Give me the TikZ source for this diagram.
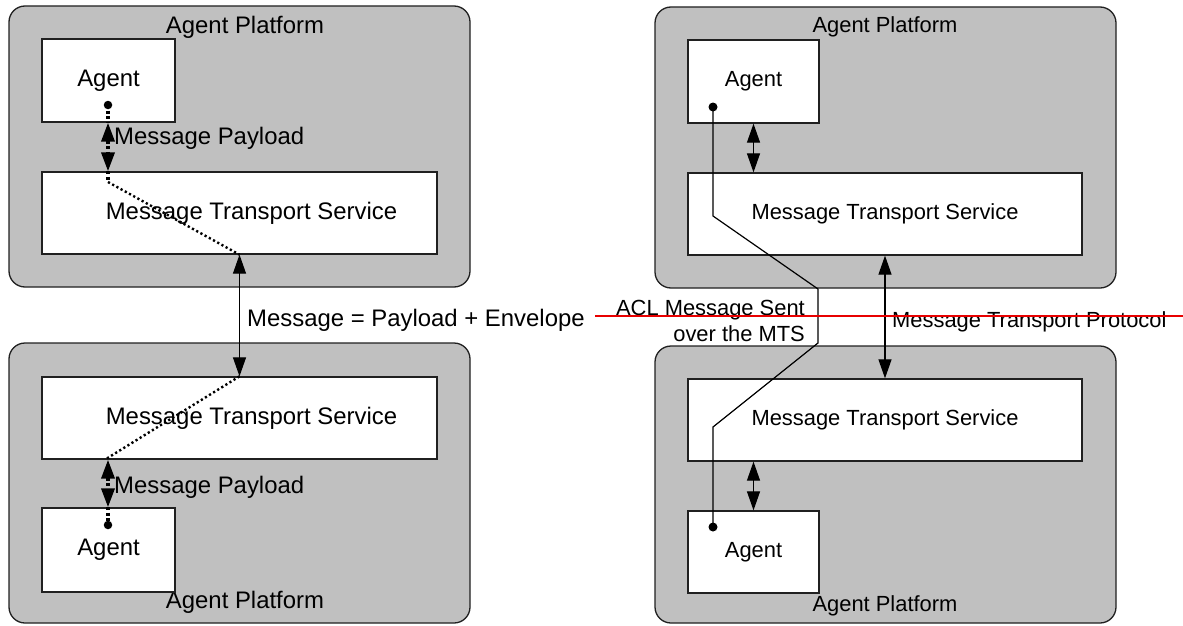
\documentclass[tikz,border=0pt]{standalone}
\usepackage{fontspec}
\setmainfont{Liberation Sans}
\usetikzlibrary{arrows.meta}
\definecolor{platgray}{HTML}{C0C0C0}
\definecolor{edgegray}{HTML}{202020}
\definecolor{redline}{HTML}{E80000}
\begin{document}
\begin{tikzpicture}[x=1pt,y=-1pt,
  platform/.style={draw=edgegray, line width=1.3pt, fill=platgray, rounded corners=16pt, inner sep=0pt},
  whitebox/.style={draw=edgegray, line width=1.3pt, fill=white, inner sep=0pt},
  bigtxt/.style={font=\fontsize{23.9}{28}\selectfont, inner sep=0pt},
  smalltxt/.style={font=\fontsize{21.9}{25.5}\selectfont, inner sep=0pt, align=right},
  headtip/.tip={Triangle[length=19pt,width=13pt]},
  dblarrow/.style={headtip-headtip, line width=1.2pt},
  dotthick/.style={line width=3.5pt, dash pattern=on 3pt off 2.5pt},
  dotthin/.style={line width=2.4pt, dash pattern=on 2.2pt off 2.6pt},
  dotnode/.style={circle, fill=black, inner sep=0pt, minimum size=#1},
  wire/.style={line width=1.2pt, draw=black}
]
\useasboundingbox (0,0) rectangle (1183,626);

% ---------------- left column ----------------
\node[platform, minimum width=461pt, minimum height=281pt] (P1) at (239.5,146.5) {};
\node[platform, minimum width=461pt, minimum height=280pt] (P2) at (239.5,483) {};
\node[bigtxt] (P1lab) at (245,27) {Agent Platform};
\node[bigtxt] (P2lab) at (245,602) {Agent Platform};

\node[whitebox, bigtxt, minimum width=133pt, minimum height=83pt] (A1) at (108.5,80.5) {Agent};
\node[whitebox, minimum width=395pt, minimum height=82pt,
      label={[bigtxt, xshift=12pt]center:Message Transport Service}] (M1) at (239.5,213) {};
\node[whitebox, minimum width=395pt, minimum height=82pt,
      label={[bigtxt, xshift=12pt]center:Message Transport Service}] (M2) at (239.5,418) {};
\node[whitebox, bigtxt, minimum width=133pt, minimum height=84pt] (A2) at (108.5,550) {Agent};

\node[dotnode=8.5pt] (d1) at (108,105) {};
\node[dotnode=8.5pt] (d2) at (108,525) {};
\coordinate (b1) at (108,182);
\coordinate (b2) at (106,459);

\draw[dblarrow, dotthick] (A1.south -| d1) -- (M1.north -| d1);
\draw[dotthick] (d1.center) -- (A1.south -| d1);
\draw[dotthick] (M1.north -| d1) -- (b1);
\draw[dotthin] (b1) -- (M1.south);

\draw[dblarrow] (M1.south) -- (M2.north);

\draw[dotthin] (M2.north) -- (b2);
\draw[dblarrow, dotthick] (M2.south -| d2) -- (A2.north -| d2);
\draw[dotthick] (A2.north -| d2) -- (d2.center);

\node[bigtxt, anchor=west] (mp1) at (114,138) {Message Payload};
\node[bigtxt, anchor=west] (mp2) at (114,487) {Message Payload};
\node[bigtxt, anchor=west] (menv) at (247,320) {Message = Payload + Envelope};

% ---------------- right column ----------------
\node[platform, minimum width=461pt, minimum height=281pt] (P3) at (885.5,147.5) {};
\node[platform, minimum width=461pt, minimum height=277pt] (P4) at (885.5,484.5) {};
\node[smalltxt] (P3lab) at (885,27) {Agent Platform};
\node[smalltxt] (P4lab) at (885,606) {Agent Platform};

\node[whitebox, smalltxt, minimum width=131pt, minimum height=83pt] (A3) at (753.5,81.5) {Agent};
\node[whitebox, smalltxt, minimum width=394pt, minimum height=82pt] (M3) at (885,214) {Message Transport Service};
\node[whitebox, smalltxt, minimum width=394pt, minimum height=82pt] (M4) at (885,420) {Message Transport Service};
\node[whitebox, smalltxt, minimum width=131pt, minimum height=82pt] (A4) at (753.5,552) {Agent};

\node[dotnode=9pt] (d3) at (713,107) {};
\node[dotnode=9pt] (d4) at (713,527) {};
\coordinate (c1) at (713,216);
\coordinate (c2) at (818,289);
\coordinate (c3) at (818,343);
\coordinate (c4) at (713,427);
\draw[wire] (d3.center) -- (c1) -- (c2) -- (c3) -- (c4) -- (d4.center);

\draw[dblarrow] (A3.south) -- (A3.south |- M3.north);
\draw[dblarrow] (M4.south -| A4.north) -- (A4.north);
\draw[dblarrow] (M3.south) -- (M4.north);

\node[smalltxt, anchor=east] (acl) at (805,321) {ACL Message Sent\\over the MTS};
\node[smalltxt, anchor=west] (mtp) at (892,322) {Message Transport Protocol};

% red line
\coordinate (r1) at (595,316);
\coordinate (r2) at (1183,316);
\draw[redline, line width=2pt] (r1) -- (r2);
\end{tikzpicture}
\end{document}
